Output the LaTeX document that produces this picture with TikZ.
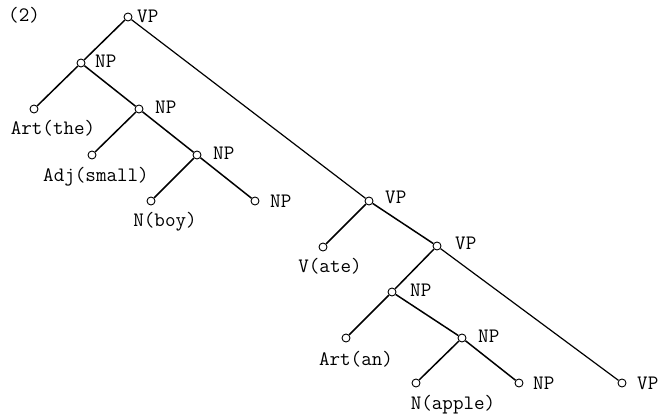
\documentclass[tikz,border=0pt]{standalone}
\begin{document}
\begin{tikzpicture}[x=1pt,y=-1pt,
  nd/.style={circle,draw,fill=white,inner sep=0pt,minimum size=8pt,line width=0.9pt},
  edge/.style={line width=1.5pt},
  lab/.style={font=\ttfamily\fontsize{20.5}{21}\selectfont,inner sep=0pt},
  cat/.style={lab,anchor=west}]
\useasboundingbox (0,0) rectangle (660,414);
% tree nodes
\node[nd] (vp) at (128,17) {};
\node[nd] (np1) at (81,63) {};
\node[nd] (art1) at (34,109) {};
\node[nd] (np2) at (139,109) {};
\node[nd] (adj) at (92,155) {};
\node[nd] (np3) at (197,155) {};
\node[nd] (nboy) at (151,201) {};
\node[nd] (npl1) at (255,201) {};
\node[nd] (vp2) at (369,201) {};
\node[nd] (vate) at (323,247) {};
\node[nd] (vp3) at (437,246) {};
\node[nd] (np4) at (392,292) {};
\node[nd] (art2) at (346,338) {};
\node[nd] (np5) at (462,338) {};
\node[nd] (napple) at (416,383) {};
\node[nd] (npl2) at (519,383) {};
\node[nd] (vpl) at (622,383) {};
% edges
\draw[edge] (vp) -- (np1);
\draw[edge,line width=1.2pt] (vp) -- (vp2);
\draw[edge] (np1) -- (art1);
\draw[edge] (np1) -- (np2);
\draw[edge] (np2) -- (adj);
\draw[edge] (np2) -- (np3);
\draw[edge] (np3) -- (nboy);
\draw[edge] (np3) -- (npl1);
\draw[edge] (vp2) -- (vate);
\draw[edge] (vp2) -- (vp3);
\draw[edge,line width=1.2pt] (vp3) -- (vpl);
\draw[edge] (vp3) -- (np4);
\draw[edge] (np4) -- (art2);
\draw[edge] (np4) -- (np5);
\draw[edge] (np5) -- (napple);
\draw[edge] (np5) -- (npl2);
% labels
\node[cat] (num) at (8,15) {(2)};
\node[cat] (lvp) at (137,16) {VP};
\node[cat] (lnp1) at (95,61) {NP};
\node[cat] (lnp2) at (155,107) {NP};
\node[cat] (lnp3) at (213,153) {NP};
\node[cat] (lnpl1) at (270,201) {NP};
\node[cat] (lvp2) at (385,197) {VP};
\node[cat] (lvp3) at (455,243) {VP};
\node[cat] (lnp4) at (410,290) {NP};
\node[cat] (lnp5) at (478,336) {NP};
\node[cat] (lnpl2) at (533,383) {NP};
\node[cat] (lvpl) at (637,383) {VP};
\node[lab] (lart1) at (53,128) {Art(the)};
\node[lab] (ladj) at (96,177) {Adj(small)};
\node[lab] (lnboy) at (165,222) {N(boy)};
\node[lab] (lvate) at (330,266) {V(ate)};
\node[lab] (lart2) at (356,359) {Art(an)};
\node[lab] (lnapple) at (453,405) {N(apple)};
\end{tikzpicture}
\end{document}
